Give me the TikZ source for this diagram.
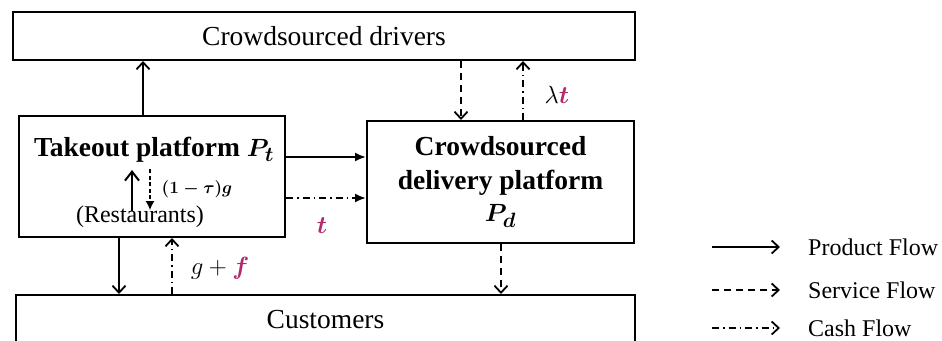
\documentclass[tikz,border=0pt]{standalone}
\usepackage{fontspec}
\setmainfont{Liberation Serif}
\usepackage{amsmath}
\usepackage{bm}
\usetikzlibrary{arrows.meta}
\definecolor{accent}{RGB}{178,42,108}
\newcommand{\bigsize}{\fontsize{27.5}{32}\selectfont}
\newcommand{\midsize}{\fontsize{24}{28}\selectfont}
\newcommand{\smallsize}{\fontsize{18}{21}\selectfont}
\tikzset{
  box/.style={draw, line width=2pt, inner sep=0pt, align=center, font=\bigsize},
  prod/.style={line width=2pt, -{Straight Barb[length=7pt,width=13pt,line width=1.8pt]}},
  serv/.style={line width=2pt, dash pattern=on 7pt off 5pt, -{Straight Barb[length=7pt,width=13pt,line width=1.8pt]}},
  cash/.style={line width=2pt, dash pattern=on 7pt off 4pt on 1.5pt off 4pt, -{Straight Barb[length=7pt,width=13pt,line width=1.8pt]}},
  prodH/.style={line width=2pt, -{Latex[length=11pt,width=9pt]}},
  cashH/.style={line width=2pt, dash pattern=on 7pt off 4pt on 1.5pt off 4pt, -{Latex[length=11pt,width=9pt]}},
  lbl/.style={font=\bigsize, inner sep=0pt},
  legtext/.style={font=\midsize, anchor=west, inner sep=0pt},
}
\begin{document}
\begin{tikzpicture}[x=1pt, y=-1pt]
\useasboundingbox (0,0) rectangle (942,340);

% boxes
\node[box, minimum width=622pt, minimum height=48pt] (drivers) at (324,36) {Crowdsourced drivers};
\node[box, minimum width=266pt, minimum height=121pt] (takeout) at (152,176.5) {};
\node[box, minimum width=267pt, minimum height=122pt, font=\bfseries\boldmath\bigsize] (delivery) at (500.5,182)
  {Crowdsourced\\[2pt]delivery platform\\[0pt]$P_d$};
\node[box, minimum width=619pt, minimum height=50pt] (customers) at (325.5,320) {Customers};

% contents of the takeout platform box
\node[font=\bfseries\boldmath\bigsize, inner sep=0pt] (ttitle) at (154,150) {Takeout platform $P_t$};
\node[font=\midsize, inner sep=0pt] (rest) at (140,217) {(Restaurants)};
\coordinate (upbot) at (132,211);
\coordinate (uptop) at (132,170);
\coordinate (dntop) at (150,169);
\coordinate (dnbot) at (150,210);
\draw[line width=2.2pt, -{Straight Barb[length=9pt,width=14pt,line width=2pt]}] (upbot) -- (uptop);
\draw[line width=1.3pt, dash pattern=on 4pt off 2.5pt, -{Latex[length=9pt,width=9pt]}] (dntop) -- (dnbot);
\node[font=\boldmath\smallsize, inner sep=0pt] (share) at (197,189) {$(1-\tau)g$};

% flows between the parties
\draw[prod] (takeout.north -| 143,0) -- (drivers.south -| 143,0);
\draw[serv] (drivers.south -| 461,0) -- (delivery.north -| 461,0);
\draw[cash] (delivery.north -| 523,0) -- (drivers.south -| 523,0);
\node[lbl] (lam) at (557,95) {$\lambda\textcolor{accent}{\bm{t}}$};

\draw[prodH] (takeout.east |- 0,157) -- (delivery.west |- 0,157);
\draw[cashH] (takeout.east |- 0,198) -- (delivery.west |- 0,198);
\node[lbl] (fee) at (322,226) {$\textcolor{accent}{\bm{t}}$};

\draw[prod] (takeout.south -| 119,0) -- (customers.north -| 119,0);
\draw[cash] (customers.north -| 172,0) -- (takeout.south -| 172,0);
\node[lbl] (pay) at (220,268) {$g+\textcolor{accent}{\bm{f}}$};

\draw[serv] (delivery.south -| 501,0) -- (customers.north -| 501,0);

% legend
\coordinate (l1a) at (712,247); \coordinate (l1b) at (780,247);
\coordinate (l2a) at (712,290); \coordinate (l2b) at (780,290);
\coordinate (l3a) at (712,328); \coordinate (l3b) at (780,328);
\draw[prod] (l1a) -- (l1b);
\draw[serv] (l2a) -- (l2b);
\draw[cash] (l3a) -- (l3b);
\node[legtext] (t1) at (808,247) {Product Flow};
\node[legtext] (t2) at (808,290) {Service Flow};
\node[legtext] (t3) at (808,328) {Cash Flow};
\end{tikzpicture}
\end{document}
